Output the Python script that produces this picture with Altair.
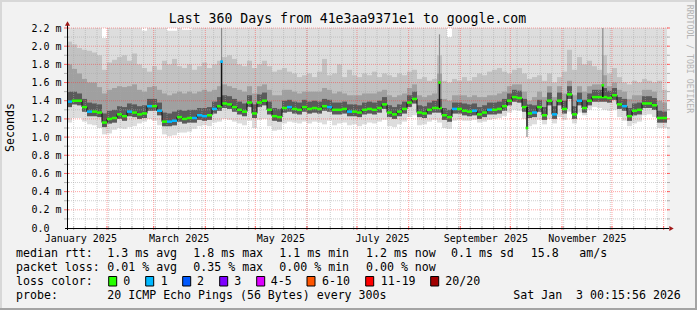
import altair as alt
import pandas as pd
from datetime import datetime, timedelta

# ------------------------------------------------------------------ data
START = datetime(2025, 1, 8, 0, 15, 56)     # 360 days before END
END = datetime(2026, 1, 3, 0, 15, 56)
SPAN_DAYS = 360
STEP_DAYS = 3                                # one value every 3 days

# median rtt (ms) per 3-day step
median = [
    1.39, 1.40, 1.40, 1.33, 1.28, 1.28, 1.27, 1.16, 1.20, 1.21,
    1.25, 1.23, 1.28, 1.27, 1.25, 1.26, 1.34, 1.34, 1.29, 1.17,
    1.17, 1.18, 1.22, 1.20, 1.21, 1.21, 1.24, 1.23, 1.24, 1.31,
    1.34, 1.37, 1.36, 1.33, 1.30, 1.28, 1.38, 1.26, 1.38, 1.40,
    1.30, 1.23, 1.22, 1.32, 1.33, 1.31, 1.30, 1.33, 1.31, 1.32,
    1.31, 1.34, 1.33, 1.30, 1.30, 1.31, 1.28, 1.28, 1.27, 1.30,
    1.31, 1.30, 1.32, 1.36, 1.27, 1.25, 1.28, 1.31, 1.38, 1.42,
    1.27, 1.26, 1.30, 1.32, 1.32, 1.24, 1.22, 1.31, 1.31, 1.29,
    1.28, 1.29, 1.25, 1.27, 1.30, 1.30, 1.31, 1.34, 1.40, 1.44,
    1.43, 1.33, 1.26, 1.27, 1.33, 1.24, 1.40, 1.25, 1.40, 1.31,
    1.47, 1.25, 1.40, 1.32, 1.40, 1.44, 1.44, 1.44, 1.43, 1.46,
    1.36, 1.34, 1.23, 1.29, 1.30, 1.37, 1.37, 1.35, 1.21, 1.21,
]
# packet loss (pings lost out of 20) per step
loss = [
    1, 0, 0, 0, 1, 0, 0, 0, 0, 0,
    0, 0, 1, 0, 0, 0, 1, 0, 1, 0,
    1, 1, 0, 0, 0, 1, 1, 1, 0, 1,
    0, 0, 0, 0, 0, 0, 0, 0, 0, 0,
    0, 0, 0, 0, 1, 0, 0, 0, 0, 0,
    0, 0, 1, 0, 0, 0, 1, 0, 0, 0,
    0, 0, 0, 0, 0, 0, 0, 0, 0, 0,
    0, 0, 0, 0, 0, 0, 0, 1, 0, 0,
    0, 1, 0, 0, 1, 0, 0, 0, 0, 0,
    0, 0, 0, 1, 0, 0, 0, 1, 0, 0,
    0, 0, 1, 0, 0, 0, 0, 0, 0, 0,
    0, 1, 0, 0, 0, 0, 0, 0, 0, 0,
]
# smoke: slowest ping (clipped at graph top)
smoke_top = [
    2.2, 2.2, 2.2, 2.2, 2.2, 2.2, 2.2, 2.09, 2.2, 2.2,
    2.2, 2.2, 2.2, 2.2, 2.2, 2.17, 2.2, 2.2, 2.2, 2.2,
    2.17, 2.17, 2.2, 2.18, 2.18, 2.2, 2.2, 2.2, 2.2, 2.2,
    2.2, 2.2, 2.2, 2.2, 2.2, 2.2, 2.2, 2.2, 2.2, 2.2,
    2.2, 2.2, 2.2, 2.2, 2.2, 2.2, 2.2, 2.2, 2.2, 2.2,
    2.2, 2.2, 2.2, 2.2, 2.2, 2.2, 2.2, 2.2, 2.2, 2.2,
    2.2, 2.2, 2.2, 2.2, 2.2, 2.2, 2.2, 2.2, 2.2, 2.2,
    2.2, 2.2, 2.2, 2.2, 2.2, 2.2, 2.10, 2.2, 2.2, 2.2,
    2.2, 2.2, 2.2, 2.2, 2.2, 2.2, 2.2, 2.2, 2.2, 2.2,
    2.2, 2.2, 2.2, 2.2, 2.2, 2.2, 2.2, 2.2, 2.2, 2.2,
    2.2, 2.2, 2.2, 2.2, 2.2, 2.2, 2.2, 2.2, 2.2, 2.2,
    2.2, 2.2, 2.2, 2.2, 2.2, 2.2, 2.2, 2.2, 2.2, 2.2,
]
smoke_hi2 = [
    2.05, 2.02, 1.98, 1.96, 1.95, 1.93, 1.90, 1.74, 1.82, 1.85,
    1.88, 1.90, 1.84, 1.92, 1.80, 1.76, 1.72, 1.78, 1.74, 1.84,
    1.80, 1.86, 1.78, 1.76, 1.80, 1.74, 1.78, 1.82, 1.76, 1.80,
    1.84, 1.88, 1.90, 1.86, 1.80, 1.78, 1.84, 1.76, 1.80, 1.84,
    1.78, 1.72, 1.74, 1.76, 1.72, 1.70, 1.66, 1.68, 1.70, 1.66,
    1.72, 1.86, 1.68, 1.70, 1.80, 1.66, 1.74, 1.68, 1.66, 1.70,
    1.68, 1.72, 1.66, 1.70, 1.68, 1.66, 1.70, 1.68, 1.72, 1.74,
    1.64, 1.66, 1.62, 1.64, 1.90, 1.62, 1.60, 1.64, 1.62, 1.66,
    1.62, 1.66, 1.70, 1.68, 1.72, 1.74, 1.76, 1.72, 1.70, 1.74,
    1.76, 1.70, 1.64, 1.66, 1.68, 1.62, 1.70, 1.60, 1.66, 1.72,
    1.96, 1.74, 1.88, 1.80, 1.84, 1.78, 1.74, 1.90, 1.70, 1.76,
    1.66, 1.60, 1.58, 1.62, 1.60, 1.64, 1.62, 1.60, 1.62, 1.52,
]
smoke_hi3 = [
    1.80, 1.75, 1.70, 1.64, 1.60, 1.60, 1.55, 1.48, 1.52, 1.54,
    1.56, 1.55, 1.56, 1.58, 1.52, 1.50, 1.55, 1.56, 1.52, 1.48,
    1.46, 1.48, 1.50, 1.48, 1.50, 1.48, 1.50, 1.52, 1.50, 1.52,
    1.56, 1.58, 1.56, 1.54, 1.52, 1.50, 1.56, 1.48, 1.56, 1.58,
    1.52, 1.46, 1.46, 1.52, 1.52, 1.50, 1.48, 1.50, 1.50, 1.50,
    1.50, 1.54, 1.52, 1.48, 1.50, 1.48, 1.46, 1.46, 1.46, 1.48,
    1.48, 1.48, 1.50, 1.52, 1.46, 1.44, 1.46, 1.48, 1.54, 1.58,
    1.46, 1.44, 1.46, 1.48, 1.70, 1.42, 1.40, 1.46, 1.46, 1.46,
    1.44, 1.46, 1.44, 1.44, 1.46, 1.46, 1.48, 1.50, 1.56, 1.58,
    1.58, 1.50, 1.40, 1.44, 1.50, 1.44, 1.56, 1.44, 1.56, 1.48,
    1.62, 1.46, 1.56, 1.50, 1.56, 1.58, 1.58, 1.68, 1.56, 1.60,
    1.52, 1.50, 1.42, 1.46, 1.46, 1.52, 1.52, 1.50, 1.40, 1.38,
]
smoke_hi4 = [
    1.50, 1.50, 1.48, 1.42, 1.38, 1.37, 1.36, 1.26, 1.29, 1.30,
    1.34, 1.33, 1.37, 1.36, 1.34, 1.35, 1.42, 1.42, 1.38, 1.27,
    1.26, 1.28, 1.30, 1.29, 1.30, 1.30, 1.32, 1.32, 1.33, 1.39,
    1.44, 1.46, 1.45, 1.42, 1.39, 1.37, 1.46, 1.36, 1.47, 1.49,
    1.39, 1.32, 1.31, 1.40, 1.41, 1.39, 1.38, 1.41, 1.39, 1.40,
    1.39, 1.42, 1.41, 1.38, 1.38, 1.39, 1.36, 1.36, 1.35, 1.38,
    1.39, 1.38, 1.40, 1.44, 1.35, 1.33, 1.36, 1.39, 1.46, 1.50,
    1.35, 1.34, 1.38, 1.40, 1.42, 1.32, 1.30, 1.38, 1.38, 1.37,
    1.36, 1.37, 1.33, 1.35, 1.38, 1.38, 1.39, 1.42, 1.48, 1.52,
    1.51, 1.42, 1.36, 1.35, 1.41, 1.33, 1.49, 1.34, 1.49, 1.40,
    1.56, 1.34, 1.49, 1.41, 1.48, 1.52, 1.52, 1.54, 1.51, 1.54,
    1.44, 1.42, 1.32, 1.37, 1.38, 1.45, 1.45, 1.43, 1.29, 1.28,
]
smoke_lo2 = [
    1.33, 1.36, 1.35, 1.28, 1.23, 1.23, 1.22, 1.11, 1.15, 1.16,
    1.20, 1.18, 1.23, 1.22, 1.20, 1.21, 1.29, 1.29, 1.24, 1.12,
    1.12, 1.13, 1.17, 1.15, 1.16, 1.16, 1.19, 1.18, 1.19, 1.26,
    1.29, 1.32, 1.31, 1.28, 1.25, 1.23, 1.33, 1.21, 1.33, 1.35,
    1.25, 1.18, 1.17, 1.27, 1.28, 1.26, 1.25, 1.28, 1.26, 1.27,
    1.26, 1.29, 1.28, 1.25, 1.25, 1.26, 1.23, 1.23, 1.22, 1.25,
    1.26, 1.25, 1.27, 1.31, 1.22, 1.20, 1.23, 1.26, 1.33, 1.37,
    1.22, 1.21, 1.25, 1.27, 1.27, 1.19, 1.17, 1.26, 1.26, 1.24,
    1.23, 1.24, 1.20, 1.22, 1.25, 1.25, 1.26, 1.29, 1.35, 1.39,
    1.38, 1.28, 1.21, 1.22, 1.28, 1.19, 1.35, 1.20, 1.35, 1.26,
    1.42, 1.20, 1.35, 1.27, 1.35, 1.39, 1.39, 1.39, 1.38, 1.41,
    1.31, 1.29, 1.18, 1.24, 1.25, 1.32, 1.32, 1.30, 1.16, 1.16,
]
smoke_lo1 = [
    1.16, 1.21, 1.21, 1.17, 1.14, 1.13, 1.10, 1.03, 1.04, 1.08,
    1.10, 1.09, 1.11, 1.12, 1.15, 1.17, 1.20, 1.18, 1.13, 1.03,
    1.01, 1.02, 1.05, 1.05, 1.06, 1.09, 1.12, 1.13, 1.12, 1.16,
    1.17, 1.20, 1.19, 1.17, 1.15, 1.13, 1.18, 1.10, 1.19, 1.20,
    1.12, 1.07, 1.08, 1.15, 1.17, 1.16, 1.15, 1.17, 1.15, 1.17,
    1.16, 1.14, 1.18, 1.13, 1.15, 1.16, 1.13, 1.14, 1.12, 1.14,
    1.16, 1.15, 1.17, 1.19, 1.12, 1.11, 1.14, 1.17, 1.22, 1.24,
    1.13, 1.14, 1.17, 1.19, 1.16, 1.10, 1.09, 1.18, 1.19, 1.18,
    1.18, 1.19, 1.16, 1.17, 1.19, 1.20, 1.21, 1.23, 1.27, 1.30,
    1.29, 1.20, 1.12, 1.14, 1.19, 1.14, 1.20, 1.15, 1.22, 1.19,
    1.28, 1.15, 1.27, 1.24, 1.30, 1.33, 1.32, 1.30, 1.29, 1.30,
    1.22, 1.18, 1.12, 1.15, 1.17, 1.24, 1.25, 1.22, 1.10, 1.10,
]
# short single-sample spikes
spike_time = [datetime(2025, 4, 10, 18), datetime(2025, 8, 19, 12),
              datetime(2025, 10, 11, 0), datetime(2025, 11, 25, 12)]
spike_base = [1.34, 1.32, 1.33, 1.44]
spike_med = [1.83, 1.60, 1.10, 1.57]
spike_ext = [2.20, 2.13, 1.00, 2.20]
spike_loss = [1, 0, 0, 0]

# axis labels / legend texts
x_label_names = ["January 2025", "March 2025", "May 2025",
                 "July 2025", "September 2025", "November 2025"]
x_label_months = [(2025, 1), (2025, 3), (2025, 5), (2025, 7), (2025, 9), (2025, 11)]
y_ticks = [0.0, 0.2, 0.4, 0.6, 0.8, 1.0, 1.2, 1.4, 1.6, 1.8, 2.0, 2.2]
TITLE = "Last 360 Days from 41e3aa9371e1 to google.com"
rtt_stats = ["1.3 ms avg", "1.8 ms max", "1.1 ms min", "1.2 ms now", "0.1 ms sd", "15.8", "am/s"]
loss_stats = ["0.01 % avg", "0.35 % max", "0.00 % min", "0.00 % now"]
loss_names = ["0", "1", "2", "3", "4-5", "6-10", "11-19", "20/20"]
loss_colors = ["#26ff00", "#00b8ff", "#0059ff", "#7e00ff", "#dd00ff", "#ff5500", "#ff0000", "#a10000"]
probe_text = "20 ICMP Echo Pings (56 Bytes) every 300s"
stamp_text = "Sat Jan\u00a0 3 00:15:56 2026"

# ------------------------------------------------------------------ helpers
FONT = "DejaVu Sans Mono"
W, H = 600, 200


def day(dt):
    return (dt - START).total_seconds() / 86400.0


n = len(median)
bins = pd.DataFrame({
    "d0": [i * STEP_DAYS for i in range(n)],
    "d1": [(i + 1) * STEP_DAYS for i in range(n)],
    "med": median, "lo1": smoke_lo1, "lo2": smoke_lo2,
    "hi2": smoke_hi2, "hi3": smoke_hi3, "hi4": smoke_hi4, "top": smoke_top,
    "loss": [str(v) for v in loss],
})
spikes = pd.DataFrame({
    "d": [day(t) for t in spike_time], "base": spike_base, "med": spike_med,
    "ext": spike_ext, "loss": [str(v) for v in spike_loss],
})

xs = alt.Scale(domain=[0, SPAN_DAYS], nice=False, zero=False)
ys = alt.Scale(domain=[0, 2.2], nice=False, zero=True)
loss_scale = alt.Scale(domain=[str(i) for i in range(len(loss_colors))], range=loss_colors)

label_days = [round(day(datetime(y, m, 16)), 3) for (y, m) in x_label_months]
x_expr = " : ".join(f"datum.value < {d + 1:.3f} ? '{nm}'" for d, nm in zip(label_days, x_label_names)) + " : ''"

x_axis = alt.Axis(values=label_days, labelExpr=x_expr, grid=False, domain=False, ticks=False,
                  labelFont=FONT, labelFontSize=10, labelColor="#000", labelPadding=5,
                  labelFlush=False, labelOverlap=False, labelBound=False, title=None)
y_axis = alt.Axis(values=y_ticks,
                  labelExpr="datum.value == 0 ? '0.0' : format(datum.value, '.1f') + ' m'",
                  grid=False, domain=False, ticks=False, labelFont=FONT, labelFontSize=10,
                  labelColor="#000", labelAlign="left", labelPadding=36, labelOverlap=False,
                  title=None)


def X(field):
    return alt.X(field, scale=xs, axis=x_axis)


def Y(field):
    return alt.Y(field, scale=ys, axis=y_axis)


def band(lo, hi, color):
    return alt.Chart(bins).mark_rect(color=color, strokeWidth=0).encode(
        x=X("d0:Q"), x2="d1:Q", y=Y(f"{lo}:Q"), y2=f"{hi}:Q")


layers = [
    band("lo1", "top", "#dddddd"),
    band("lo2", "hi2", "#c2c2c2"),
    band("lo2", "hi3", "#a0a0a0"),
    band("lo2", "hi4", "#5a5a5a"),
]

# grid
weeks = []
d = datetime(2025, 1, 12)
while d < END:
    weeks.append(day(d))
    d += timedelta(days=7)
months = [day(datetime(2025, m, 1)) for m in range(2, 13)] + [day(datetime(2026, 1, 1))]
minor_y = [round(0.1 * k, 1) for k in range(1, 22, 2)]
major_y = [round(0.2 * k, 1) for k in range(1, 12)]
MINOR = "#a8a8a8"
MAJOR = "#ff3030"


def vgrid(vals, color, op):
    df = pd.DataFrame({"d": vals})
    g = alt.Chart(df).mark_rule(color=color, opacity=op, strokeDash=[1, 1], strokeWidth=1).encode(
        x=X("d:Q"), y=alt.value(0), y2=alt.value(H))
    t = alt.Chart(df).mark_rule(color=color, opacity=min(1, op * 1.6), strokeWidth=1).encode(
        x=X("d:Q"), y=alt.value(H - 2), y2=alt.value(H + 2))
    return [g, t]


def hgrid(vals, color, op):
    df = pd.DataFrame({"v": vals})
    g = alt.Chart(df).mark_rule(color=color, opacity=op, strokeDash=[1, 1], strokeWidth=1).encode(
        y=Y("v:Q"), x=alt.value(0), x2=alt.value(W + 2))
    t1 = alt.Chart(df).mark_rule(color=color, opacity=min(1, op * 1.6), strokeWidth=1).encode(
        y=Y("v:Q"), x=alt.value(-3), x2=alt.value(2))
    t2 = alt.Chart(df).mark_rule(color=color, opacity=min(1, op * 1.6), strokeWidth=1).encode(
        y=Y("v:Q"), x=alt.value(W), x2=alt.value(W + 3))
    return [g, t1, t2]


layers += vgrid(weeks, MINOR, 0.55) + hgrid(minor_y, MINOR, 0.55)
layers += vgrid(months, MAJOR, 0.45) + hgrid(major_y, MAJOR, 0.45)

# median: black step connector + loss coloured segments
layers.append(alt.Chart(bins).mark_line(interpolate="step-after", color="#111111", strokeWidth=1).encode(
    x=X("d0:Q"), y=Y("med:Q")))
layers.append(alt.Chart(bins).mark_rule(strokeWidth=2.5).encode(
    x=X("d0:Q"), x2="d1:Q", y=Y("med:Q"),
    color=alt.Color("loss:N", scale=loss_scale, legend=None)))

# spikes
layers.append(alt.Chart(spikes).mark_rule(color="#8a8a8a", strokeWidth=1.2).encode(
    x=X("d:Q"), y=Y("med:Q"), y2="ext:Q"))
layers.append(alt.Chart(spikes).mark_rule(color="#111111", strokeWidth=1.5).encode(
    x=X("d:Q"), y=Y("base:Q"), y2="med:Q"))
layers.append(alt.Chart(spikes).mark_square(size=7, opacity=1).encode(
    x=X("d:Q"), y=Y("med:Q"),
    color=alt.Color("loss:N", scale=loss_scale, legend=None)))

dummy = pd.DataFrame({"a": [0]})


def rule(x1, y1, x2, y2, color, w=1):
    return alt.Chart(dummy).mark_rule(color=color, strokeWidth=w).encode(
        x=alt.value(x1), y=alt.value(y1), x2=alt.value(x2), y2=alt.value(y2))


def box(x1, y1, x2, y2, fill, stroke=None):
    kw = dict(fill=fill, strokeWidth=0)
    if stroke:
        kw = dict(fill=fill, stroke=stroke, strokeWidth=1)
    return alt.Chart(dummy).mark_rect(**kw).encode(
        x=alt.value(x1), y=alt.value(y1), x2=alt.value(x2), y2=alt.value(y2))


def txt(s, x, y, size=11.6, color="#000000", angle=0, align="left"):
    return alt.Chart(dummy).mark_text(text=s, font=FONT, fontSize=size, color=color, align=align,
                                      baseline="middle", angle=angle).encode(
        x=alt.value(x), y=alt.value(y))


# axes lines and arrows
layers.append(rule(0.5, -4, 0.5, H + 2, "#000000"))
layers.append(rule(-2, H + 0.5, W + 2, H + 0.5, "#000000"))
layers.append(alt.Chart(dummy).mark_point(shape="triangle-up", filled=True, size=26, color="#a01818",
                                          opacity=1).encode(x=alt.value(0.5), y=alt.value(-4.5)))
layers.append(alt.Chart(dummy).mark_point(shape="triangle-right", filled=True, size=26, color="#a01818",
                                          opacity=1).encode(x=alt.value(W + 4.5), y=alt.value(H + 0.5)))

# frame of the canvas
layers += [box(-67, -28, 630, -26, "#d8d8d8"), box(-67, -28, -65, 282, "#d8d8d8"),
           box(628, -28, 630, 282, "#a4a4a4"), box(-67, 280, 630, 282, "#a4a4a4")]

# titles
layers.append(txt(TITLE, 280.5, -9, size=13.2, align="center"))
layers.append(txt("Seconds", -56, 99.5, size=11.6, angle=270, align="center"))
layers.append(txt("RRDTOOL / TOBI OETIKER", 621.5, 31, size=8.2, color="#b4b4b4", angle=90, align="center"))

# legend rows
R1, R2, R3, R4 = 226.3, 240.3, 254.3, 268.3
layers.append(txt("median rtt:", -51, R1))
for s, x in zip(rtt_stats, [40.3, 126.3, 212.3, 299, 384, 463.7, 512.3]):
    layers.append(txt(s, x, R1))
layers.append(txt("packet loss:", -51, R2))
for s, x in zip(loss_stats, [40.3, 126.3, 212.3, 299]):
    layers.append(txt(s, x, R2))
layers.append(txt("loss color:", -51, R3))
for nm, c, bx, lx in zip(loss_names, loss_colors,
                         [41.7, 78.7, 115.7, 152.7, 189.7, 240, 298.7, 363.7],
                         [56.3, 93.7, 130, 167.3, 203.7, 255, 313.7, 378.3]):
    layers.append(box(bx, 248.5, bx + 8, 258, c, stroke="#000000"))
    layers.append(txt(nm, lx, R3))
layers.append(txt("probe:", -51, R4))
layers.append(txt(probe_text, 40.3, R4))
layers.append(txt(stamp_text, 446.3, R4))

chart = alt.layer(*layers).properties(
    width=W, height=H,
    padding={"left": 67, "top": 28, "right": 30, "bottom": 82},
    autosize=alt.AutoSizeParams(type="none"),
).configure(background="#f2f2f2").configure_view(fill="#ffffff", strokeWidth=0)

chart.save("out.html", embed_options={"renderer": "svg", "actions": False})
